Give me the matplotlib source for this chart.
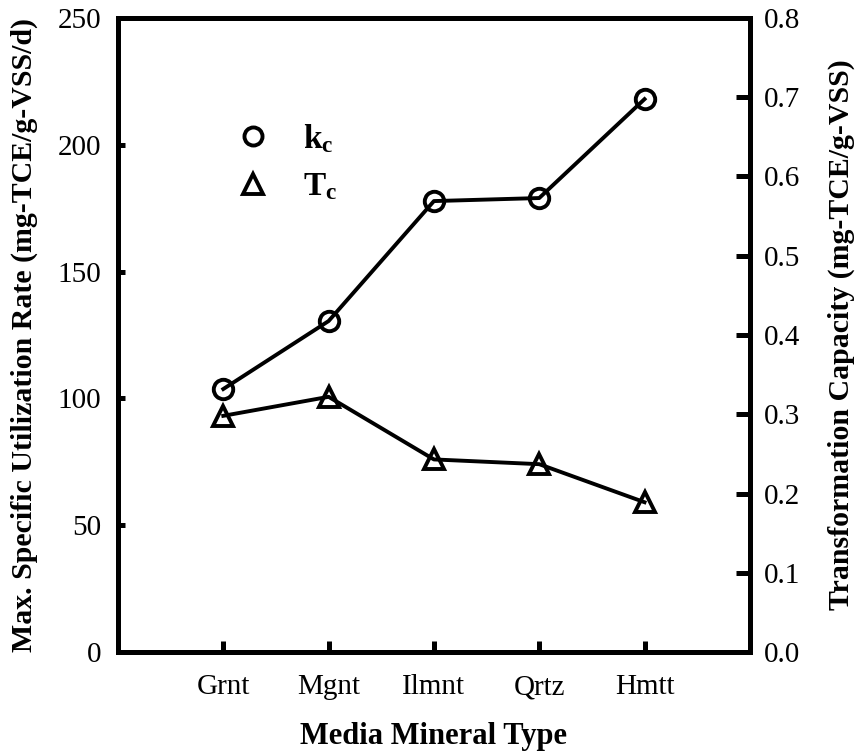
import matplotlib
matplotlib.use('Agg')
import matplotlib.pyplot as plt
from matplotlib.lines import Line2D

plt.rcParams['font.family'] = 'Liberation Serif'
plt.rcParams['mathtext.fontset'] = 'custom'
plt.rcParams['mathtext.rm'] = 'Liberation Serif:bold'
plt.rcParams['mathtext.bf'] = 'Liberation Serif:bold'
plt.rcParams['mathtext.it'] = 'Liberation Serif:bold'

minerals = ['Grnt', 'Mgnt', 'Ilmnt', 'Qrtz', 'Hmtt']
kc = [103.7, 130.5, 177.8, 179.0, 218.0]
Tc = [0.298, 0.322, 0.243, 0.237, 0.189]
xpos = [1, 2, 3, 4, 5]

fig = plt.figure(figsize=(8.55, 7.55), dpi=100)
ax = fig.add_axes([0.138, 0.1364, 0.739, 0.8398])
ax2 = ax.twinx()

ax.plot(xpos, kc, color='k', lw=2.8, marker='o', ms=14, mfc='none', mec='k', mew=2.8)
ax2.plot(xpos, Tc, color='k', lw=2.8, marker='^', ms=15, mfc='none', mec='k', mew=2.8)

ax.set_xlim(0, 6)
ax.set_ylim(0, 250)
ax2.set_ylim(0, 0.8)
ax.set_xticks(xpos)
ax.set_xticklabels(minerals)
ax.set_yticks([0, 50, 100, 150, 200, 250])
ax2.set_yticks([0.0, 0.1, 0.2, 0.3, 0.4, 0.5, 0.6, 0.7, 0.8])
ax2.set_yticklabels(['%.1f' % v for v in ax2.get_yticks()])

for a in (ax, ax2):
    for s in a.spines.values():
        s.set_linewidth(3.6)

ax.tick_params(axis='y', direction='in', length=5, width=3.6, labelsize=21, pad=12)
ax.tick_params(axis='x', direction='in', length=8, width=3.6, labelsize=21, pad=16)
ax2.tick_params(axis='y', direction='in', length=10, width=3.6, labelsize=21, pad=10)

ax.set_xlabel('Media Mineral Type', fontsize=22, fontweight='bold', labelpad=16)
ax.set_ylabel('Max. Specific Utilization Rate (mg-TCE/g-VSS/d)', fontsize=21.5, fontweight='bold', labelpad=14)
ax2.set_ylabel('Transformation Capacity (mg-TCE/g-VSS)', fontsize=21.5, fontweight='bold', labelpad=20)

handles = [Line2D([], [], ls='none', marker='o', ms=13, mfc='none', mec='k', mew=2.8),
           Line2D([], [], ls='none', marker='^', ms=14, mfc='none', mec='k', mew=2.8)]
ax.legend(handles, [r'$\mathbf{k_c}$', r'$\mathbf{T_c}$'], loc='upper left',
          bbox_to_anchor=(0.14, 0.883), frameon=False, fontsize=24,
          handletextpad=1.0, labelspacing=0.5, handlelength=1.0)

fig.savefig('out.png', dpi=100)
